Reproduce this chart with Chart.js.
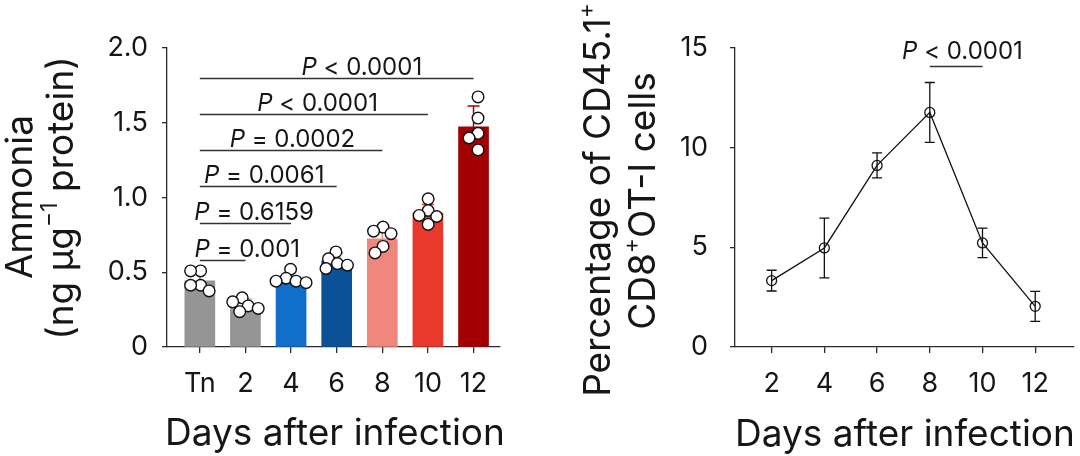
<!DOCTYPE html>
<html><head><meta charset="utf-8">
<script src="https://cdn.jsdelivr.net/npm/chart.js@4.4.1/dist/chart.umd.min.js"></script>
<style>
html,body{margin:0;padding:0;background:#fff;width:1080px;height:456px;overflow:hidden}
#wrapL{position:absolute;left:0;top:0;width:540px;height:456px}
#wrapR{position:absolute;left:540px;top:0;width:540px;height:456px}
canvas{display:block}
</style></head><body>
<div id="wrapL"><canvas id="left" width="540" height="456"></canvas></div>
<div id="wrapR"><canvas id="right" width="540" height="456"></canvas></div>
<script>
// ---------- data ----------
const categories = ['Tn','2','4','6','8','10','12'];
const ammoniaMean = [0.442,0.273,0.458,0.576,0.724,0.896,1.472];
const ammoniaSD   = [0.05,0.047,0.06,0.052,0.065,0.057,0.14];
const ammoniaDots = [
  [0.509,0.509,0.413,0.413,0.375],
  [0.329,0.302,0.275,0.258,0.236],
  [0.52,0.46,0.44,0.44,0.43],
  [0.636,0.59,0.558,0.547,0.525],
  [0.802,0.775,0.758,0.673,0.629],
  [0.991,0.913,0.88,0.873,0.82],
  [1.673,1.531,1.429,1.398,1.318]
];
const ammoniaTicks = [0,0.5,1.0,1.5,2.0];
const ammoniaTickLabels = ['0','0.5','1.0','1.5','2.0'];
const sigFrom  = [0,0,0,0,0,0];
const sigTo    = [6,5,4,3,2,1];
const sigY     = [1.798,1.558,1.318,1.075,0.829,0.585];
const sigText  = ['< 0.0001','< 0.0001','= 0.0002','= 0.0061','= 0.6159','= 0.001'];
const sigTextX = [3.55,2.58,2.03,1.41,1.19,1.04];

const days = [2,4,6,8,10,12];
const cd45Mean = [3.33,4.97,9.11,11.77,5.22,2.04];
const cd45SD   = [0.52,1.5,0.63,1.5,0.74,0.75];
const cd45Ticks = [0,5,10,15];
const sigR = {from:8, to:10, y:14.08, text:'< 0.0001', textX:9.24};

// ---------- styles ----------
const FAM = 'Inter, "Noto Sans", sans-serif';
const TXT = '#161616';
const AX = '#2a2a2a';
const barColors = ['#959595','#959595','#0f6fca','#0b5197','#f0877d','#e8392c','#a20003'];
const TICK = 27, TITLE = 37, SIG = 24;

function richText(ctx, segs, cx, baseY, size){
  let w = 0;
  const parts = segs.map(s=>{
    const fs = s.sup ? size*0.62 : size;
    const f = (s.it?'italic ':'') + fs + 'px ' + FAM;
    ctx.font = f;
    const m = ctx.measureText(s.t).width;
    w += m;
    return {t:s.t, f, m, dy: s.sup ? -size*0.42 : 0};
  });
  let x = cx - w/2;
  ctx.textBaseline = 'alphabetic';
  ctx.textAlign = 'left';
  parts.forEach(p=>{ ctx.font = p.f; ctx.fillText(p.t, x, baseY + p.dy); x += p.m; });
}
function rotText(ctx, segs, bx, cy, size){
  ctx.save();
  ctx.translate(bx, cy);
  ctx.rotate(-Math.PI/2);
  richText(ctx, segs, 0, 0, size);
  ctx.restore();
}

function axisCommon(min, max, ticks, tickCb, pad, fit, horizontal, tl){
  return {
    type:'linear', min, max, offset:false,
    afterBuildTicks: s => { s.ticks = ticks.map(v=>({value:v})); },
    ticks:{ callback: tickCb, font:{size:TICK, family:FAM}, color:TXT, padding:pad, autoSkip:false, maxRotation:0 },
    grid:{ display:true, offset:false, drawOnChartArea:false, drawTicks:true, tickLength:tl, color:AX, lineWidth:1.3 },
    border:{ display:true, color:AX, width:1.3 },
    afterFit: s => { if(horizontal) s.height = fit; else s.width = fit; }
  };
}

// ---------- left chart ----------
const leftPlugin = {
  id:'leftDecor',
  afterDatasetDraw(chart, args){
    if(args.index !== 0) return;
    const ctx = chart.ctx, xs = chart.scales.x, ys = chart.scales.y;
    ctx.save();
    ctx.lineWidth = 1.5;
    ammoniaMean.forEach((m,i)=>{
      const x = xs.getPixelForValue(i), y0 = ys.getPixelForValue(m), y1 = ys.getPixelForValue(m+ammoniaSD[i]);
      ctx.strokeStyle = barColors[i];
      ctx.beginPath();
      ctx.moveTo(x,y0); ctx.lineTo(x,y1);
      ctx.moveTo(x-6,y1); ctx.lineTo(x+6,y1);
      ctx.stroke();
    });
    ctx.restore();
  },
  afterDraw(chart){
    const ctx = chart.ctx, xs = chart.scales.x, ys = chart.scales.y;
    ctx.save();
    ctx.strokeStyle = '#333'; ctx.lineWidth = 1.3; ctx.fillStyle = TXT;
    sigY.forEach((v,i)=>{
      const y = Math.round(ys.getPixelForValue(v))+0.5;
      ctx.beginPath();
      ctx.moveTo(xs.getPixelForValue(sigFrom[i]), y);
      ctx.lineTo(xs.getPixelForValue(sigTo[i]), y);
      ctx.stroke();
      richText(ctx, [{t:'P', it:true},{t:' '+sigText[i]}], xs.getPixelForValue(sigTextX[i]), y-4, SIG);
    });
    rotText(ctx, [{t:'Ammonia'}], 32, 197, TITLE);
    rotText(ctx, [{t:'(ng µg'},{t:'−1', sup:true},{t:' protein)'}], 73, 198, TITLE);
    richText(ctx, [{t:'Days after infection'}], 335, 445, TITLE);
    ctx.restore();
  }
};

const leftChart = new Chart(document.getElementById('left'), {
  type:'bar',
  data:{ datasets:[
    { type:'bar', data: ammoniaMean.map((v,i)=>({x:i, y:v})), backgroundColor: barColors, barThickness:30, order:0 },
    { type:'scatter', data: ammoniaDots.flatMap((g,i)=>g.map(v=>({x:i, y:v}))), pointRadius:5.8,
      pointBackgroundColor:'#fff', pointBorderColor:'#111', pointBorderWidth:1.4, order:-1 }
  ]},
  options:{
    responsive:false, animation:false,
    layout:{ padding:{ left:0, right:40, top:48, bottom:0 } },
    plugins:{ legend:{display:false}, tooltip:{enabled:false} },
    scales:{
      x: axisCommon(-0.72, 6.58, categories.map((c,i)=>i), v=>categories[v], 15, 109, true, 6),
      y: axisCommon(0, 2, ammoniaTicks, (v,i)=>ammoniaTickLabels[i], 14, 167, false, 5)
    }
  },
  plugins:[leftPlugin]
});

// beeswarm placement of dots using the chart's own scales
(function swarm(chart){
  const xs = chart.scales.x, ys = chart.scales.y, D = 10;
  const out = [];
  ammoniaDots.forEach((g,i)=>{
    const cx = xs.getPixelForValue(i);
    const placed = [];
    g.forEach(v=>{
      const py = ys.getPixelForValue(v);
      let off = 0;
      for(let k=0;k<300;k++){
        const c = (k%2 ? -1 : 1) * Math.ceil(k/2) * 0.5;
        if(placed.every(p=>Math.hypot(p.dx-c, p.py-py) >= D)){ off = c; break; }
      }
      placed.push({dx:off, py, v});
    });
    const mn = Math.min(...placed.map(p=>p.dx)), mx = Math.max(...placed.map(p=>p.dx));
    const sh = (mn+mx)/2;
    placed.forEach(p=>out.push({x: xs.getValueForPixel(cx + p.dx - sh), y: p.v}));
  });
  chart.data.datasets[1].data = out;
  chart.update('none');
})(leftChart);

// ---------- right chart ----------
const rightPlugin = {
  id:'rightDecor',
  afterDatasetsDraw(chart){
    const ctx = chart.ctx, xs = chart.scales.x, ys = chart.scales.y;
    ctx.save();
    ctx.strokeStyle = '#111'; ctx.lineWidth = 1.3;
    days.forEach((d,i)=>{
      const x = xs.getPixelForValue(d);
      const yt = ys.getPixelForValue(cd45Mean[i]+cd45SD[i]), yb = ys.getPixelForValue(cd45Mean[i]-cd45SD[i]);
      ctx.beginPath();
      ctx.moveTo(x,yt); ctx.lineTo(x,yb);
      ctx.moveTo(x-5,yt); ctx.lineTo(x+5,yt);
      ctx.moveTo(x-5,yb); ctx.lineTo(x+5,yb);
      ctx.stroke();
    });
    ctx.restore();
  },
  afterDraw(chart){
    const ctx = chart.ctx, xs = chart.scales.x, ys = chart.scales.y;
    ctx.save();
    ctx.fillStyle = TXT; ctx.strokeStyle = '#333'; ctx.lineWidth = 1.3;
    const y = Math.round(ys.getPixelForValue(sigR.y))+0.5;
    ctx.beginPath();
    ctx.moveTo(xs.getPixelForValue(sigR.from), y);
    ctx.lineTo(xs.getPixelForValue(sigR.to), y);
    ctx.stroke();
    richText(ctx, [{t:'P', it:true},{t:' '+sigR.text}], xs.getPixelForValue(sigR.textX), y-8, SIG);
    rotText(ctx, [{t:'Percentage of CD45.1'},{t:'+', sup:true}], 70, 200, TITLE);
    rotText(ctx, [{t:'CD8'},{t:'+', sup:true},{t:'OT-I cells'}], 115, 201, TITLE);
    richText(ctx, [{t:'Days after infection'}], 365, 446, TITLE);
    ctx.restore();
  }
};

new Chart(document.getElementById('right'), {
  type:'line',
  data:{ datasets:[{
    data: days.map((d,i)=>({x:d, y:cd45Mean[i]})),
    borderColor:'#111', borderWidth:1.3, tension:0,
    pointRadius:5, pointBackgroundColor:'rgba(0,0,0,0)', pointBorderColor:'#111', pointBorderWidth:1.3
  }]},
  options:{
    responsive:false, animation:false,
    layout:{ padding:{ left:0, right:3, top:48, bottom:0 } },
    plugins:{ legend:{display:false}, tooltip:{enabled:false} },
    scales:{
      x: axisCommon(0.61, 13.46, days, v=>String(v), 15, 109, true, 6),
      y: axisCommon(0, 15, cd45Ticks, v=>String(v), 22, 195, false, 5)
    }
  },
  plugins:[rightPlugin]
});
</script>
</body></html>
